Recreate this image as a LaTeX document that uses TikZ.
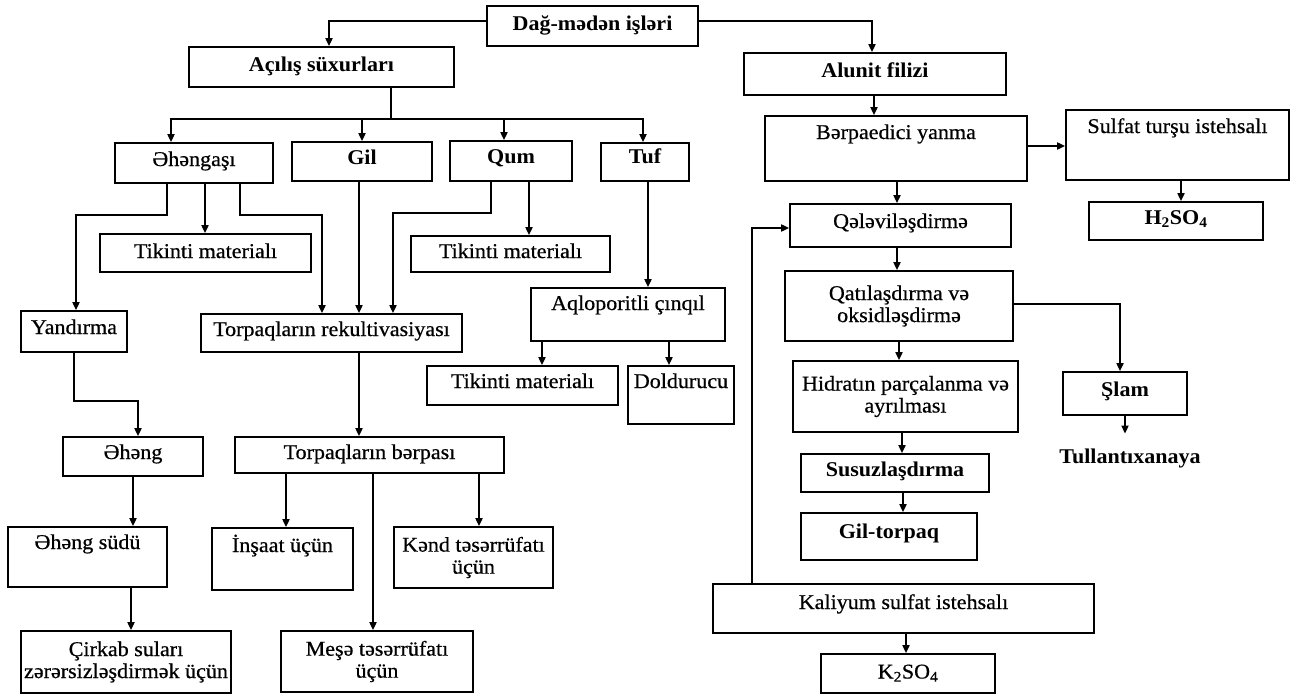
\documentclass[tikz,border=0pt]{standalone}
\usepackage{fontspec}
\setmainfont{Liberation Serif}[FakeStretch=1.05, UprightFeatures={FakeBold=0.6}]
\usetikzlibrary{arrows.meta}

\begin{document}
\begin{tikzpicture}[x=1pt, y=-1pt, font=\fontsize{21}{22}\selectfont, line width=1.7pt,
  box/.style={draw, inner sep=0pt, text height=15pt, text depth=9pt},
  two/.style={draw, inner sep=0pt, align=center},
  arr/.style={-{Triangle[length=8pt,width=7pt]}}]
\useasboundingbox (0,0) rectangle (1293,694);

\node[box, minimum width=211pt, minimum height=40pt, text depth=7pt] (dag) at (592.5,26) {\bfseries Dağ-mədən işləri};
\node[box, minimum width=265pt, minimum height=40pt, text depth=7pt] (acilis) at (321.5,67) {\bfseries Açılış süxurları};
\node[box, minimum width=262pt, minimum height=42pt] (alunit) at (875,74) {\bfseries Alunit filizi};

\node[box, minimum width=158pt, minimum height=40pt] (ahengasi) at (194,163) {Əhəngaşı};
\node[box, minimum width=140pt, minimum height=39pt, text depth=10pt] (gil) at (362,161.5) {\bfseries Gil};
\node[box, minimum width=122pt, minimum height=40pt, text depth=11pt] (qum) at (511,161) {\bfseries Qum};
\node[box, minimum width=88pt, minimum height=38pt, text depth=13pt] (tuf) at (645,162) {\bfseries Tuf};
\node[box, minimum width=211pt, minimum height=38pt, text depth=5pt] (tik1) at (205.5,253) {Tikinti materialı};
\node[box, minimum width=199pt, minimum height=36pt, text depth=7pt] (tik2) at (510.5,254) {Tikinti materialı};
\node[box, minimum width=106pt, minimum height=41pt, text depth=10pt] (yand) at (74,331.5) {Yandırma};
\node[box, minimum width=261pt, minimum height=38pt] (rekult) at (331.5,333) {Torpaqların rekultivasiyası};
\node[box, minimum width=194pt, minimum height=53pt, text depth=24pt] (aqlo) at (628,314.5) {Aqloporitli çınqıl};
\node[box, minimum width=191pt, minimum height=39pt, text depth=10pt] (tik3) at (522.5,385.5) {Tikinti materialı};
\node[box, minimum width=106pt, minimum height=58pt, text depth=29pt] (dold) at (681,395) {Doldurucu};
\node[box, minimum width=140pt, minimum height=39pt, text depth=10pt] (aheng) at (133,456.5) {Əhəng};
\node[box, minimum width=269pt, minimum height=36pt, text depth=7pt] (berpasi) at (369.5,455) {Torpaqların bərpası};
\node[box, minimum width=159pt, minimum height=60pt, text depth=31pt] (sudu) at (87.5,557) {Əhəng südü};
\node[two, minimum width=210pt, minimum height=62pt] (cirkab) at (126,662) {Çirkab suları\\zərərsizləşdirmək üçün};
\node[box, minimum width=141pt, minimum height=62pt, text depth=29pt] (insaat) at (282.5,559) {İnşaat üçün};
\node[two, minimum width=159pt, minimum height=61pt] (kend) at (473.5,557.5) {Kənd təsərrüfatı\\üçün};
\node[two, minimum width=192pt, minimum height=61pt] (mese) at (377,661.5) {Meşə təsərrüfatı\\üçün};

\node[box, minimum width=262pt, minimum height=65pt, text depth=34pt] (berpa) at (896,148.5) {Bərpaedici yanma};
\node[box, minimum width=223pt, minimum height=70pt, text depth=39pt] (sulfat) at (1177.5,145) {Sulfat turşu istehsalı};
\node[box, minimum width=174pt, minimum height=38pt] (hso) at (1176,221) {\bfseries H\textsubscript{2}SO\textsubscript{4}};
\node[box, minimum width=221pt, minimum height=43pt, text depth=10pt] (qele) at (900.5,225.5) {Qələviləşdirmə};
\node[two, minimum width=228pt, minimum height=70pt] (qati) at (899,306) {Qatılaşdırma və\\oksidləşdirmə};
\node[two, minimum width=225pt, minimum height=71pt] (hidrat) at (905.5,396.5) {Hidratın parçalanma və\\ayrılması};
\node[box, minimum width=124pt, minimum height=43pt, text depth=10pt] (slam) at (1125,393.5) {\bfseries Şlam};
\node[inner sep=2pt] (tull) at (1130,458) {\bfseries Tullantıxanaya};
\node[box, minimum width=188pt, minimum height=38pt] (susuz) at (895,473) {\bfseries Susuzlaşdırma};
\node[box, minimum width=176pt, minimum height=47pt, text depth=12pt] (giltor) at (889,536.5) {\bfseries Gil-torpaq};
\node[box, minimum width=381pt, minimum height=49pt, text depth=14pt] (kali) at (903.5,608.5) {Kaliyum sulfat istehsalı};
\node[box, minimum width=174pt, minimum height=39pt, text depth=5pt] (kso) at (908,673.5) {K\textsubscript{2}SO\textsubscript{4}};

\draw[arr] ([yshift=5pt]dag.west) -| ([xshift=7.5pt]acilis.north); \draw[arr] ([yshift=5pt]dag.east) -| ([xshift=-3pt]alunit.north);
\coordinate (bus) at (391,119); \draw (acilis.south -| bus) -- (bus);
\draw[arr] (bus) -| ([xshift=-23pt]ahengasi.north); \draw[arr] (bus) -| (gil.north); \draw[arr] (bus) -| ([xshift=-7pt]qum.north); \draw[arr] (bus) -| ([xshift=-2pt]tuf.north);

\draw[arr] ([xshift=-27pt]ahengasi.south) -- ++(0,31) -| ([xshift=2pt]yand.north);
\draw[arr] ([xshift=11pt]ahengasi.south) -- ([xshift=-0.5pt]tik1.north);
\draw[arr] ([xshift=46pt]ahengasi.south) -- ++(0,31) -| ([xshift=-9.5pt]rekult.north);
\draw[arr] ([xshift=-3pt]gil.south) -- ([xshift=27.5pt]rekult.north);
\draw[arr] ([xshift=-20pt]qum.south) -- ++(0,31) -| ([xshift=61.5pt]rekult.north);
\draw[arr] ([xshift=18pt]qum.south) -- ([xshift=18.5pt]tik2.north);
\draw[arr] ([xshift=3pt]tuf.south) -- ([xshift=20pt]aqlo.north);
\draw[arr] ([xshift=-86pt]aqlo.south) -- ([xshift=19.5pt]tik3.north); \draw[arr] ([xshift=41pt]aqlo.south) -- ([xshift=-12pt]dold.north);
\draw[arr] (yand.south) -- ++(0,48) -| ([xshift=5pt]aheng.north);
\draw[arr] ([xshift=27.5pt]rekult.south) -- ([xshift=-10.5pt]berpasi.north);
\draw[arr] (aheng.south) -- ([xshift=45.5pt]sudu.north); \draw[arr] ([xshift=43.5pt]sudu.south) -- ([xshift=5pt]cirkab.north);
\draw[arr] ([xshift=-83.5pt]berpasi.south) -- ([xshift=3.5pt]insaat.north);
\draw[arr] ([xshift=3.5pt]berpasi.south) -- ([xshift=-4pt]mese.north);
\draw[arr] ([xshift=109.5pt]berpasi.south) -- ([xshift=5.5pt]kend.north);

\draw[arr] ([xshift=-1pt]alunit.south) -- ([xshift=-22pt]berpa.north);
\draw[arr] ([yshift=2.5pt]berpa.east) -- ([yshift=-1pt]sulfat.west); \draw[arr] ([xshift=3.5pt]sulfat.south) -- ([xshift=5pt]hso.north);
\draw[arr] ([xshift=1pt]berpa.south) -- ([xshift=-3.5pt]qele.north); \draw[arr] ([xshift=-3.5pt]qele.south) -- ([xshift=-2pt]qati.north);
\draw[arr] ([yshift=2pt]qati.east) -| ([xshift=-5pt]slam.north); \draw[arr] (slam.south) -- ([xshift=-5pt, yshift=12pt]tull.north);
\draw[arr] (qati.south) -- ([xshift=-6.5pt]hidrat.north); \draw[arr] ([xshift=-3.5pt]hidrat.south) -- ([xshift=7pt]susuz.north);
\draw[arr] ([xshift=8pt]susuz.south) -- ([xshift=14pt]giltor.north);
\draw[arr] ([xshift=2.5pt]kali.south) -- ([xshift=-2pt]kso.north);
\draw[arr] ([xshift=-151.5pt]kali.north) |- ([yshift=-2.5pt]qele.west);
\end{tikzpicture}
\end{document}
